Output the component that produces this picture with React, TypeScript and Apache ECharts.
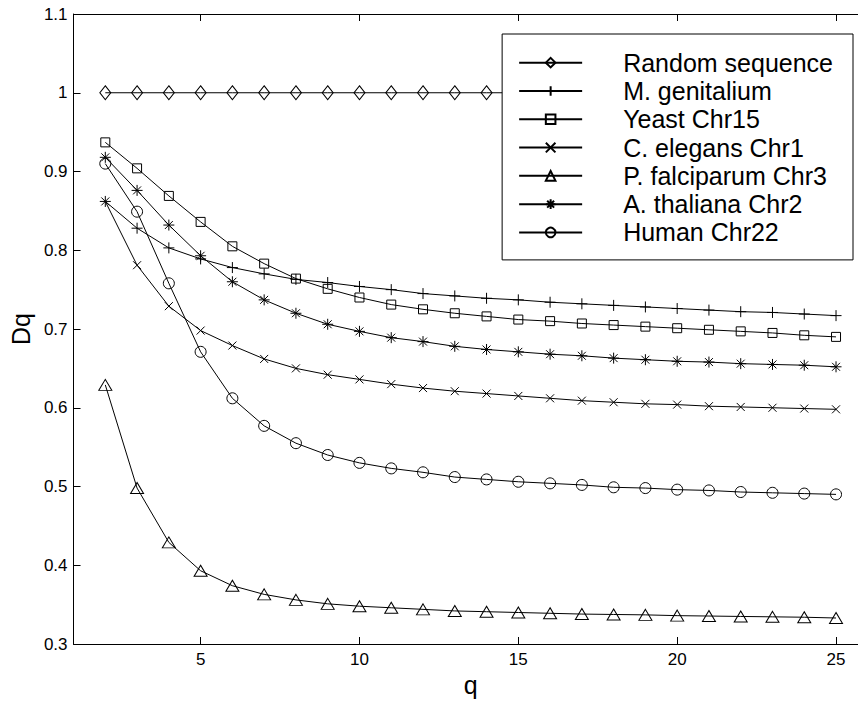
import React, { useEffect, useRef } from "react";
import * as echarts from "echarts";

const qValues = [2, 3, 4, 5, 6, 7, 8, 9, 10, 11, 12, 13, 14, 15, 16, 17, 18, 19, 20, 21, 22, 23, 24, 25];
const xTicks = [5, 10, 15, 20, 25];

const seriesNames = [
  "Random sequence",
  "M. genitalium",
  "Yeast Chr15",
  "C. elegans Chr1",
  "P. falciparum Chr3",
  "A. thaliana Chr2",
  "Human Chr22",
];

const randomSeq = [1, 1, 1, 1, 1, 1, 1, 1, 1, 1, 1, 1, 1, 1, 1, 1, 1, 1, 1, 1, 1, 1, 1, 1];
const mGenitalium = [0.862, 0.828, 0.803, 0.789, 0.778, 0.770, 0.763, 0.759, 0.754, 0.750, 0.745, 0.742, 0.739, 0.737, 0.734, 0.732, 0.730, 0.728, 0.726, 0.724, 0.722, 0.721, 0.719, 0.717];
const yeastChr15 = [0.937, 0.904, 0.869, 0.836, 0.805, 0.783, 0.764, 0.751, 0.740, 0.731, 0.725, 0.720, 0.716, 0.712, 0.710, 0.707, 0.705, 0.703, 0.701, 0.699, 0.697, 0.695, 0.692, 0.690];
const cElegans = [0.862, 0.781, 0.729, 0.698, 0.679, 0.662, 0.650, 0.642, 0.636, 0.630, 0.625, 0.621, 0.618, 0.615, 0.612, 0.609, 0.607, 0.605, 0.604, 0.602, 0.601, 0.600, 0.599, 0.598];
const pFalciparum = [0.629, 0.498, 0.429, 0.393, 0.374, 0.363, 0.356, 0.351, 0.348, 0.346, 0.344, 0.342, 0.341, 0.340, 0.339, 0.338, 0.3375, 0.337, 0.336, 0.3355, 0.335, 0.3345, 0.334, 0.333];
const aThaliana = [0.918, 0.876, 0.832, 0.793, 0.760, 0.737, 0.720, 0.706, 0.697, 0.689, 0.684, 0.678, 0.674, 0.671, 0.668, 0.666, 0.663, 0.661, 0.659, 0.658, 0.656, 0.655, 0.654, 0.652];
const humanChr22 = [0.910, 0.849, 0.758, 0.671, 0.612, 0.577, 0.555, 0.540, 0.530, 0.523, 0.518, 0.512, 0.509, 0.506, 0.504, 0.502, 0.499, 0.498, 0.496, 0.495, 0.493, 0.492, 0.491, 0.490];

const seriesValues = [randomSeq, mGenitalium, yeastChr15, cElegans, pFalciparum, aThaliana, humanChr22];

const PLUS = "path://M0,-1L0,1M-1,0L1,0";
const CROSS = "path://M-1,-1L1,1M-1,1L1,-1";
const STAR = "path://M0,-1L0,1M-1,0L1,0M-0.72,-0.72L0.72,0.72M-0.72,0.72L0.72,-0.72";

const symbols: any[] = ["diamond", PLUS, "rect", CROSS, "triangle", STAR, "circle"];
const symbolSizes: any[] = [[11, 14], 11, 9, 8, [13, 11], 11, 11];

const FONT = "'Liberation Sans', Arial, Helvetica, sans-serif";

export default function App() {
  const ref = useRef<HTMLDivElement>(null);
  useEffect(() => {
    if (!ref.current) return;
    const chart = echarts.init(ref.current, undefined, { renderer: "svg" });
    const axisLine = { show: true, lineStyle: { color: "#000", width: 1 } };
    chart.setOption({
      animation: false,
      backgroundColor: "#fff",
      textStyle: { fontFamily: FONT },
      grid: { left: 69.5, right: 2.2, top: 14, bottom: 61 },
      legend: {
        orient: "vertical",
        right: 17,
        top: 34,
        data: seriesNames,
        itemWidth: 63,
        itemHeight: 12,
        itemGap: 0,
        padding: [14.5, 20, 13.3, 16],
        backgroundColor: "#fff",
        borderColor: "#000",
        borderWidth: 1,
        borderRadius: 0,
        selectedMode: false,
        textStyle: {
          fontFamily: FONT,
          fontSize: 25,
          color: "#000",
          lineHeight: 28.3,
          padding: [0, 0, 0, 36],
        },
      },
      xAxis: [
        {
          type: "value",
          min: 1,
          max: 26,
          name: "q",
          nameLocation: "middle",
          nameGap: 28,
          nameTextStyle: { fontFamily: FONT, fontSize: 25, color: "#000" },
          axisLine,
          axisTick: { show: true, inside: true, length: 7, customValues: xTicks, lineStyle: { color: "#000" } },
          axisLabel: { customValues: xTicks, fontFamily: FONT, fontSize: 17, color: "#000", margin: 7 },
          splitLine: { show: false },
        },
        {
          type: "value",
          position: "top",
          min: 1,
          max: 26,
          axisLine,
          axisTick: { show: true, inside: true, length: 7, customValues: xTicks, lineStyle: { color: "#000" } },
          axisLabel: { show: false },
          splitLine: { show: false },
        },
      ],
      yAxis: [
        {
          type: "value",
          min: 0.3,
          max: 1.1,
          interval: 0.1,
          name: "Dq",
          nameLocation: "middle",
          nameGap: 36,
          nameTextStyle: { fontFamily: FONT, fontSize: 25, color: "#000" },
          axisLine,
          axisTick: { show: true, inside: true, length: 7, lineStyle: { color: "#000" } },
          axisLabel: { fontFamily: FONT, fontSize: 17, color: "#000", margin: 6 },
          splitLine: { show: false },
        },
        {
          type: "value",
          position: "right",
          min: 0.3,
          max: 1.1,
          interval: 0.1,
          axisLine,
          axisTick: { show: true, inside: true, length: 7, lineStyle: { color: "#000" } },
          axisLabel: { show: false },
          splitLine: { show: false },
        },
      ],
      series: seriesNames.map((name, i) => ({
        name,
        type: "line",
        xAxisIndex: 0,
        yAxisIndex: 0,
        data: qValues.map((q, j) => [q, seriesValues[i][j]]),
        symbol: symbols[i],
        symbolSize: symbolSizes[i],
        showAllSymbol: true,
        color: "#000",
        lineStyle: { color: "#000", width: 1 },
        itemStyle: { color: "rgba(0,0,0,0)", borderColor: "#000", borderWidth: 1 },
        emphasis: { disabled: true },
        z: 2,
      })),
    });
    return () => chart.dispose();
  }, []);
  return (
    <div style={{ position: "fixed", left: 0, top: 0, width: 858, height: 705, overflow: "hidden", background: "#fff" }}>
      <div ref={ref} style={{ width: 870, height: 705 }} />
    </div>
  );
}
